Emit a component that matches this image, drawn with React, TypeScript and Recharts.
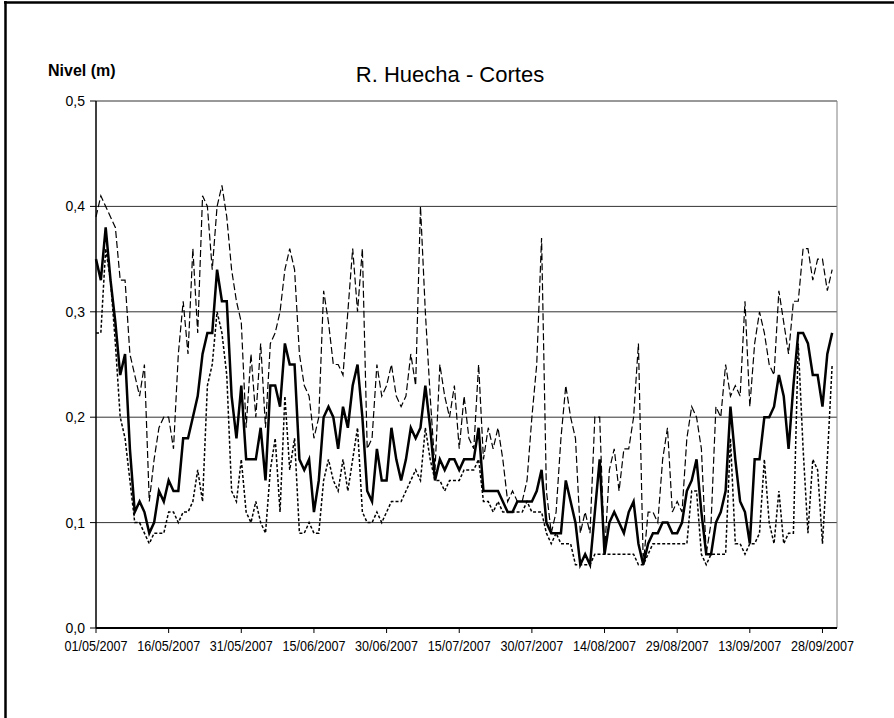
import React from 'react';
import { LineChart, Line, XAxis, YAxis, CartesianGrid, ReferenceLine } from 'recharts';

// daily values, 01/05/2007 .. 30/09/2007
const nivelMax = [
  0.39, 0.41, 0.40, 0.39, 0.38, 0.33, 0.33, 0.26, 0.24, 0.22, 0.25, 0.12, 0.16, 0.19, 0.20, 0.20,
  0.17, 0.26, 0.31, 0.26, 0.36, 0.28, 0.41, 0.40, 0.34, 0.40, 0.42, 0.39, 0.34, 0.31, 0.29, 0.19,
  0.26, 0.20, 0.27, 0.19, 0.27, 0.28, 0.30, 0.34, 0.36, 0.34, 0.26, 0.23, 0.22, 0.18, 0.20, 0.32,
  0.29, 0.25, 0.25, 0.24, 0.30, 0.36, 0.30, 0.36, 0.17, 0.18, 0.25, 0.22, 0.23, 0.25, 0.22, 0.21,
  0.22, 0.26, 0.23, 0.40, 0.30, 0.22, 0.15, 0.25, 0.22, 0.20, 0.23, 0.17, 0.22, 0.18, 0.17, 0.25,
  0.16, 0.19, 0.17, 0.19, 0.16, 0.12, 0.13, 0.12, 0.12, 0.14, 0.20, 0.25, 0.37, 0.13, 0.09, 0.11,
  0.18, 0.23, 0.20, 0.18, 0.09, 0.11, 0.09, 0.20, 0.20, 0.07, 0.15, 0.17, 0.13, 0.17, 0.17, 0.20,
  0.27, 0.06, 0.11, 0.11, 0.10, 0.16, 0.19, 0.11, 0.12, 0.11, 0.18, 0.21, 0.20, 0.17, 0.07, 0.10,
  0.21, 0.20, 0.25, 0.22, 0.23, 0.22, 0.31, 0.21, 0.27, 0.30, 0.28, 0.25, 0.24, 0.32, 0.29, 0.26,
  0.31, 0.31, 0.36, 0.36, 0.33, 0.35, 0.35, 0.32, 0.34,
];

const nivelMedio = [
  0.35, 0.33, 0.38, 0.33, 0.29, 0.24, 0.26, 0.17, 0.11, 0.12, 0.11, 0.09, 0.10, 0.13, 0.12, 0.14,
  0.13, 0.13, 0.18, 0.18, 0.20, 0.22, 0.26, 0.28, 0.28, 0.34, 0.31, 0.31, 0.22, 0.18, 0.23, 0.16,
  0.16, 0.16, 0.19, 0.14, 0.23, 0.23, 0.21, 0.27, 0.25, 0.25, 0.16, 0.15, 0.16, 0.11, 0.14, 0.20,
  0.21, 0.20, 0.17, 0.21, 0.19, 0.23, 0.25, 0.20, 0.13, 0.12, 0.17, 0.14, 0.14, 0.19, 0.16, 0.14,
  0.16, 0.19, 0.18, 0.19, 0.23, 0.19, 0.14, 0.16, 0.15, 0.16, 0.16, 0.15, 0.16, 0.16, 0.16, 0.19,
  0.13, 0.13, 0.13, 0.13, 0.12, 0.11, 0.11, 0.12, 0.12, 0.12, 0.12, 0.13, 0.15, 0.10, 0.09, 0.09,
  0.09, 0.14, 0.12, 0.10, 0.06, 0.07, 0.06, 0.11, 0.16, 0.07, 0.10, 0.11, 0.10, 0.09, 0.11, 0.12,
  0.08, 0.06, 0.08, 0.09, 0.09, 0.10, 0.10, 0.09, 0.09, 0.10, 0.13, 0.14, 0.16, 0.11, 0.07, 0.07,
  0.10, 0.11, 0.13, 0.21, 0.16, 0.12, 0.11, 0.08, 0.16, 0.16, 0.20, 0.20, 0.21, 0.24, 0.22, 0.17,
  0.23, 0.28, 0.28, 0.27, 0.24, 0.24, 0.21, 0.26, 0.28,
];

const nivelMin = [
  0.28, 0.28, 0.36, 0.33, 0.27, 0.20, 0.18, 0.14, 0.10, 0.10, 0.09, 0.08, 0.09, 0.09, 0.09, 0.11,
  0.11, 0.10, 0.11, 0.11, 0.12, 0.15, 0.12, 0.23, 0.25, 0.30, 0.28, 0.24, 0.13, 0.12, 0.16, 0.11,
  0.10, 0.12, 0.10, 0.09, 0.15, 0.18, 0.11, 0.22, 0.15, 0.18, 0.09, 0.09, 0.10, 0.09, 0.09, 0.14,
  0.16, 0.14, 0.13, 0.16, 0.13, 0.16, 0.19, 0.11, 0.10, 0.10, 0.11, 0.10, 0.11, 0.12, 0.12, 0.12,
  0.13, 0.14, 0.15, 0.14, 0.19, 0.16, 0.14, 0.14, 0.13, 0.14, 0.14, 0.14, 0.15, 0.15, 0.15, 0.16,
  0.12, 0.12, 0.11, 0.12, 0.11, 0.11, 0.11, 0.11, 0.11, 0.12, 0.11, 0.11, 0.11, 0.09, 0.08, 0.09,
  0.08, 0.08, 0.08, 0.06, 0.06, 0.06, 0.06, 0.07, 0.07, 0.07, 0.07, 0.07, 0.07, 0.07, 0.07, 0.07,
  0.06, 0.06, 0.07, 0.08, 0.08, 0.08, 0.08, 0.08, 0.08, 0.08, 0.08, 0.13, 0.13, 0.07, 0.06, 0.07,
  0.07, 0.07, 0.07, 0.18, 0.08, 0.08, 0.07, 0.08, 0.08, 0.09, 0.16, 0.10, 0.08, 0.13, 0.08, 0.09,
  0.09, 0.27, 0.17, 0.09, 0.16, 0.15, 0.08, 0.16, 0.25,
];

const tickDays = [0, 15, 30, 45, 60, 75, 90, 105, 120, 135, 150];
const tickLabels = [
  '01/05/2007', '16/05/2007', '31/05/2007', '15/06/2007', '30/06/2007', '15/07/2007',
  '30/07/2007', '14/08/2007', '29/08/2007', '13/09/2007', '28/09/2007',
];
const yTicks = [0, 0.1, 0.2, 0.3, 0.4, 0.5];

const data = nivelMedio.map((v, i) => ({ day: i, max: nivelMax[i], medio: v, min: nivelMin[i] }));

const font = '"Liberation Sans", Arial, sans-serif';

// the reference's date labels are narrow and tall, so squeeze them
const DateTick = (props: any) => {
  const { x, y, payload } = props;
  return (
    <text x={x} y={y} dy={15} textAnchor="middle" fontSize={15} fontFamily={font} fill="#000"
      textLength={63} lengthAdjust="spacingAndGlyphs">
      {tickLabels[tickDays.indexOf(payload.value)] || ''}
    </text>
  );
};

export default function App() {
  return (
    <div style={{ position: 'absolute', left: 0, top: 0, width: 894, height: 718, background: '#fff' }}>
      <LineChart width={894} height={718} data={data}
        margin={{ top: 101, right: 57, bottom: 60, left: 36 }}
        style={{ position: 'absolute', left: 0, top: 0 }}>
        <CartesianGrid horizontal={true} vertical={false} stroke="#333" />
        <XAxis type="number" dataKey="day" domain={[0, 153]} ticks={tickDays} interval={0}
          height={30} tickSize={5} tickMargin={3}
          axisLine={{ stroke: '#000', strokeWidth: 2 }} tickLine={{ stroke: '#000' }}
          tick={DateTick} />
        <YAxis type="number" domain={[0, 0.5]} ticks={yTicks} interval={0}
          tickFormatter={(v: number) => v.toFixed(1).replace('.', ',')}
          width={60} tickSize={6} tickMargin={5}
          axisLine={{ stroke: '#000', strokeWidth: 1.5 }} tickLine={{ stroke: '#000' }}
          tick={{ fill: '#000', fontSize: 14, fontFamily: font }} />
        <ReferenceLine x={153} stroke="#808080" />
        <Line type="linear" dataKey="max" stroke="#000" strokeWidth={1.2} strokeDasharray="7 3"
          dot={false} activeDot={false} isAnimationActive={false} />
        <Line type="linear" dataKey="min" stroke="#000" strokeWidth={1.5} strokeDasharray="3 2"
          dot={false} activeDot={false} isAnimationActive={false} />
        <Line type="linear" dataKey="medio" stroke="#000" strokeWidth={2.5}
          dot={false} activeDot={false} isAnimationActive={false} />
      </LineChart>
      <svg width={894} height={718} style={{ position: 'absolute', left: 0, top: 0, pointerEvents: 'none' }}>
        <line x1={5.5} y1={1} x2={5.5} y2={718} stroke="#000" strokeWidth={2.5} />
        <line x1={4} y1={2.5} x2={894} y2={2.5} stroke="#000" strokeWidth={2.5} />
        <text x={48} y={76} fontFamily={font} fontSize={16} fontWeight="bold" fill="#000">Nivel (m)</text>
        <text x={450} y={82} fontFamily={font} fontSize={22} textAnchor="middle" fill="#000">R. Huecha - Cortes</text>
      </svg>
    </div>
  );
}
